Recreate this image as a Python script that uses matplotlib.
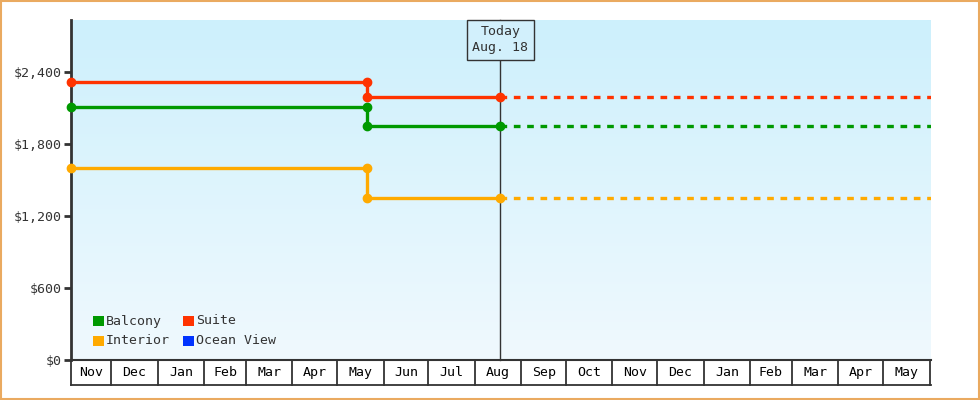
import numpy as np
import matplotlib
matplotlib.use('Agg')
import matplotlib.pyplot as plt
import matplotlib.dates as mdates
from matplotlib.patches import Rectangle
from matplotlib.colors import LinearSegmentedColormap
from datetime import date

# ---- data ----
start_date = date(2024, 11, 4)
change_date = date(2025, 5, 21)
today_date = date(2025, 8, 18)
end_date = date(2026, 6, 2)

cabins = ['Balcony', 'Suite', 'Interior', 'Ocean View']
colors = ['#009900', '#ff3300', '#ffaa00', '#0033ff']
price_before = [2110, 2310, 1600, None]
price_after = [1950, 2190, 1350, None]

yticks = [0, 600, 1200, 1800, 2400]
ymax = 2830

months = [date(2024, 11, 1), date(2024, 12, 1)] + \
         [date(2025, m, 1) for m in range(1, 13)] + \
         [date(2026, m, 1) for m in range(1, 7)]

plt.rcParams['font.family'] = ['DejaVu Sans Mono']
txt = '#333333'

fig = plt.figure(figsize=(9.8, 4), dpi=100)
ax = fig.add_axes([71/980, 40/400, 860/980, 340/400])

x0, x1 = mdates.date2num(start_date), mdates.date2num(end_date)
ax.set_xlim(x0, x1)
ax.set_ylim(0, ymax)

# gradient background
grad = np.linspace(0, 1, 256).reshape(-1, 1)
cmap = LinearSegmentedColormap.from_list('bg', ['#f0f9fe', '#cdf0fc'])
ax.imshow(grad, aspect='auto', cmap=cmap, origin='lower',
          extent=[x0, x1, 0, ymax], zorder=0)

xs = mdates.date2num(start_date)
xc = mdates.date2num(change_date)
xt = mdates.date2num(today_date)
for name, col, a, b in zip(cabins, colors, price_before, price_after):
    if a is None:
        continue
    ax.plot([xs, xc, xc, xt], [a, a, b, b], color=col, lw=2.4,
            marker='o', ms=6, zorder=4, solid_capstyle='butt', clip_on=False)
    ax.plot([xt, x1], [b, b], color=col, lw=2.4, ls=(0, (2, 2)), zorder=3)

# today marker
ax.plot([xt, xt], [0, 1], transform=ax.get_xaxis_transform(), color='#333333',
        lw=1, zorder=2, clip_on=False)
ax.text(xt, 1 - 20/340, 'Today\nAug. 18', transform=ax.get_xaxis_transform(),
        ha='center', va='center', fontsize=9.5, color=txt, linespacing=1.3,
        bbox=dict(boxstyle='square,pad=0.4', fc='#d2f0fc', ec='#333333', lw=1),
        zorder=5)

# axes styling
for s in ['top', 'right']:
    ax.spines[s].set_visible(False)
ax.spines['left'].set_color('#333333')
ax.spines['left'].set_linewidth(2)
ax.spines['left'].set_zorder(2.5)
ax.spines['bottom'].set_color('#333333')
ax.spines['bottom'].set_linewidth(1.5)
ax.set_yticks(yticks)
ax.set_yticklabels(['${:,}'.format(v) for v in yticks], fontsize=9.5, color=txt)
ax.tick_params(axis='y', length=5, width=2, color='#333333', pad=2)
ax.set_xticks([])

# month cells under the axis
trans = ax.get_xaxis_transform()
cell_h = 25/340
ax.plot([x0, x1], [-cell_h, -cell_h], transform=trans, color='#333333',
        lw=1.3, clip_on=False)
ax.plot([x0, x0], [0, -cell_h], transform=trans, color='#333333',
        lw=1.3, clip_on=False)
mn = [mdates.date2num(m) for m in months]
for i in range(len(mn) - 1):
    a, b = max(mn[i], x0), min(mn[i + 1], x1)
    if b <= a:
        continue
    if mn[i + 1] <= x1:
        ax.plot([mn[i + 1], mn[i + 1]], [0, -cell_h], transform=trans,
                color='#333333', lw=1.3, clip_on=False)
    ax.text((a + b)/2, -cell_h/2, months[i].strftime('%b'), transform=trans,
            ha='center', va='center', fontsize=9.5, color='black')

# legend
leg_items = [(0, 0), (1, 0), (0, 1), (1, 1)]
for k, (cx, cy) in enumerate(leg_items):
    px = 93 + cx*90
    py = 316 + cy*20
    fig.patches.append(Rectangle((px/980, 1 - (py + 10)/400), 11/980, 10/400,
                                 transform=fig.transFigure, fc=colors[k],
                                 ec='none', zorder=5))
    fig.text((px + 13)/980, 1 - (py + 5)/400, cabins[k], fontsize=9.5,
             color=txt, va='center', ha='left')

# outer frame
fig.patches.append(Rectangle((0.001, 0.002), 0.998, 0.996,
                             transform=fig.transFigure, fill=False,
                             ec='#eaaa60', lw=1.5))

fig.savefig('out.png', dpi=100)
